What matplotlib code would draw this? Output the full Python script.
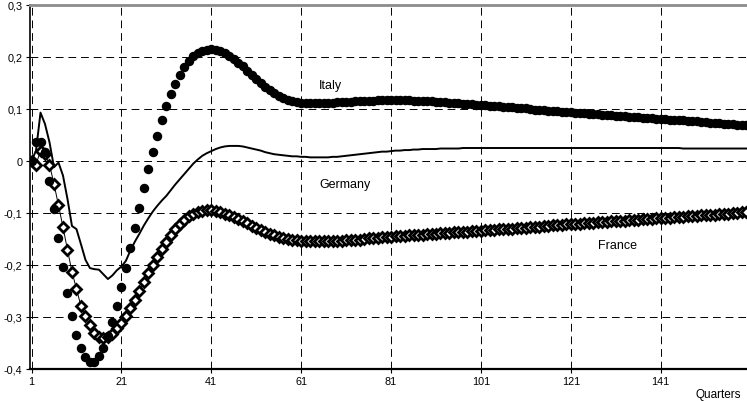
import matplotlib
matplotlib.use("Agg")
import matplotlib.pyplot as plt
from matplotlib.ticker import FuncFormatter

plt.rcParams['font.family'] = ['Liberation Sans', 'DejaVu Sans']

# quarters 1..160
quarters = list(range(1, 161))

italy = [
    0.000, 0.037, 0.037, 0.017, -0.038, -0.092, -0.148, -0.204, -0.254, -0.299,
    -0.335, -0.360, -0.377, -0.386, -0.386, -0.375, -0.360, -0.336, -0.310, -0.279,
    -0.242, -0.205, -0.167, -0.129, -0.090, -0.052, -0.016, 0.018, 0.049, 0.079,
    0.105, 0.128, 0.148, 0.165, 0.180, 0.192, 0.201, 0.208, 0.212, 0.214,
    0.215, 0.214, 0.211, 0.207, 0.202, 0.196, 0.189, 0.182, 0.174, 0.166,
    0.158, 0.150, 0.143, 0.136, 0.130, 0.125, 0.121, 0.117, 0.115, 0.113,
    0.112, 0.111, 0.111, 0.111, 0.111, 0.111, 0.112, 0.112, 0.113, 0.113,
    0.114, 0.114, 0.115, 0.115, 0.116, 0.116, 0.116, 0.117, 0.117, 0.117,
    0.117, 0.117, 0.117, 0.117, 0.117, 0.116, 0.116, 0.116, 0.115, 0.115,
    0.114, 0.114, 0.113, 0.112, 0.112, 0.111, 0.110, 0.110, 0.109, 0.108,
    0.107, 0.107, 0.106, 0.105, 0.105, 0.104, 0.103, 0.103, 0.102, 0.101,
    0.101, 0.100, 0.099, 0.099, 0.098, 0.097, 0.097, 0.096, 0.095, 0.095,
    0.094, 0.093, 0.093, 0.092, 0.091, 0.091, 0.090, 0.089, 0.089, 0.088,
    0.087, 0.087, 0.086, 0.085, 0.085, 0.084, 0.083, 0.083, 0.082, 0.081,
    0.081, 0.080, 0.079, 0.079, 0.078, 0.078, 0.077, 0.076, 0.076, 0.075,
    0.075, 0.074, 0.073, 0.073, 0.072, 0.072, 0.071, 0.070, 0.070, 0.069,
]

germany = [
    0.000, 0.020, 0.093, 0.071, 0.036, -0.012, -0.003, -0.028, -0.073, -0.125,
    -0.131, -0.160, -0.190, -0.206, -0.208, -0.209, -0.218, -0.227, -0.220, -0.210,
    -0.203, -0.192, -0.172, -0.155, -0.140, -0.124, -0.110, -0.097, -0.086, -0.076,
    -0.067, -0.056, -0.045, -0.035, -0.025, -0.015, -0.005, 0.003, 0.010, 0.015,
    0.019, 0.023, 0.026, 0.028, 0.029, 0.029, 0.029, 0.028, 0.026, 0.024,
    0.022, 0.020, 0.017, 0.015, 0.013, 0.012, 0.011, 0.010, 0.009, 0.009,
    0.008, 0.008, 0.007, 0.007, 0.007, 0.007, 0.007, 0.008, 0.008, 0.009,
    0.010, 0.011, 0.012, 0.013, 0.014, 0.015, 0.016, 0.017, 0.018, 0.018,
    0.019, 0.020, 0.020, 0.021, 0.021, 0.022, 0.022, 0.023, 0.023, 0.023,
    0.023, 0.024, 0.024, 0.024, 0.024, 0.024, 0.025, 0.025, 0.025, 0.025,
    0.025, 0.025, 0.025, 0.025, 0.025, 0.025, 0.025, 0.025, 0.025, 0.025,
    0.025, 0.025, 0.025, 0.025, 0.025, 0.025, 0.025, 0.025, 0.025, 0.025,
    0.025, 0.025, 0.025, 0.025, 0.025, 0.025, 0.025, 0.025, 0.025, 0.025,
    0.025, 0.025, 0.025, 0.025, 0.025, 0.025, 0.025, 0.025, 0.025, 0.025,
    0.025, 0.025, 0.025, 0.025, 0.025, 0.024, 0.024, 0.024, 0.024, 0.024,
    0.024, 0.024, 0.024, 0.024, 0.024, 0.024, 0.024, 0.024, 0.024, 0.024,
]

france = [
    0.000, -0.007, 0.020, 0.013, -0.007, -0.044, -0.085, -0.127, -0.171, -0.213,
    -0.246, -0.279, -0.298, -0.316, -0.330, -0.338, -0.341, -0.339, -0.332, -0.322,
    -0.311, -0.298, -0.283, -0.267, -0.250, -0.233, -0.216, -0.200, -0.184, -0.169,
    -0.155, -0.142, -0.131, -0.121, -0.113, -0.106, -0.101, -0.098, -0.096, -0.095,
    -0.095, -0.096, -0.098, -0.101, -0.104, -0.108, -0.112, -0.116, -0.120, -0.125,
    -0.129, -0.133, -0.137, -0.140, -0.143, -0.146, -0.148, -0.150, -0.151, -0.152,
    -0.153, -0.154, -0.154, -0.154, -0.154, -0.154, -0.154, -0.154, -0.153, -0.153,
    -0.152, -0.152, -0.151, -0.151, -0.150, -0.149, -0.149, -0.148, -0.147, -0.146,
    -0.146, -0.145, -0.145, -0.144, -0.143, -0.143, -0.142, -0.142, -0.141, -0.140,
    -0.140, -0.139, -0.139, -0.138, -0.137, -0.137, -0.136, -0.136, -0.135, -0.135,
    -0.134, -0.133, -0.133, -0.132, -0.131, -0.131, -0.130, -0.130, -0.129, -0.128,
    -0.128, -0.127, -0.127, -0.126, -0.125, -0.125, -0.124, -0.124, -0.123, -0.122,
    -0.122, -0.121, -0.121, -0.120, -0.119, -0.119, -0.118, -0.118, -0.117, -0.116,
    -0.116, -0.115, -0.115, -0.114, -0.113, -0.113, -0.112, -0.112, -0.111, -0.110,
    -0.110, -0.109, -0.109, -0.108, -0.107, -0.107, -0.106, -0.106, -0.105, -0.104,
    -0.104, -0.103, -0.103, -0.102, -0.101, -0.101, -0.100, -0.100, -0.099, -0.099,
]

x_ticks = [1, 21, 41, 61, 81, 101, 121, 141]
y_ticks = [-0.4, -0.3, -0.2, -0.1, 0.0, 0.1, 0.2, 0.3]

fig = plt.figure(figsize=(7.47, 4.02), dpi=100)
ax = fig.add_axes([29.5 / 747, 32 / 402, 717.5 / 747, 364 / 402])

# germany: plain line
ax.plot(quarters, germany, color='black', lw=1.4, zorder=3)
# france: diamonds on a thin line
ax.plot(quarters, france, color='black', lw=0.7, marker='D', markersize=4.6,
        markerfacecolor='white', markeredgecolor='black', markeredgewidth=2.0, zorder=4)
# italy: filled dots only
ax.plot(quarters, italy, linestyle='none', marker='o', markersize=5.8,
        color='black', zorder=5)

ax.set_xlim(0.55, 160.2)
ax.set_ylim(-0.4, 0.3)
ax.set_xticks(x_ticks)
ax.set_yticks(y_ticks)

def comma_fmt(v, pos):
    if abs(v) < 1e-9:
        return '0'
    return f'{v:.1f}'.replace('.', ',')

ax.yaxis.set_major_formatter(FuncFormatter(comma_fmt))
ax.tick_params(axis='both', direction='out', length=3, width=0.8, labelsize=7.8, pad=2)

ax.grid(True, color='black', linestyle=(0, (8, 5)), lw=0.7)

ax.spines['right'].set_visible(False)
ax.spines['top'].set_color('#8c8c8c')
ax.spines['top'].set_linewidth(2)
ax.spines['left'].set_linewidth(1.2)
ax.spines['bottom'].set_linewidth(1.6)

ax.text(65, 0.146, 'Italy', fontsize=9, ha='left', va='center')
ax.text(65, -0.044, 'Germany', fontsize=9, ha='left', va='center')
ax.text(127, -0.162, 'France', fontsize=9, ha='left', va='center')
fig.text(718 / 747, 1 - 395 / 402, 'Quarters', fontsize=8.5, ha='center', va='center')

fig.savefig('out.png', dpi=100)
